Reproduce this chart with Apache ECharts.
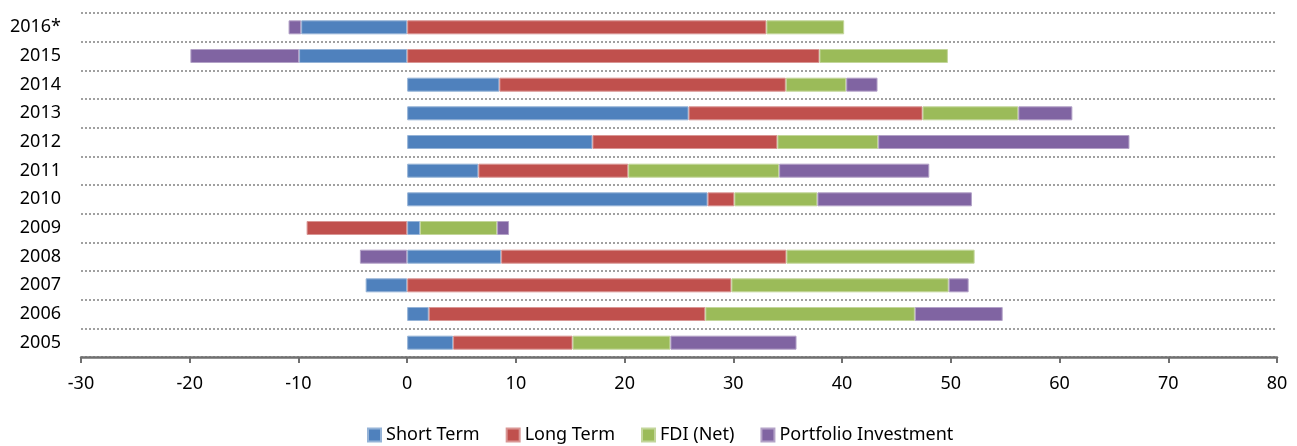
<!DOCTYPE html>
<html>
<head>
<meta charset="utf-8">
<script src="https://cdn.jsdelivr.net/npm/echarts@6/dist/echarts.min.js"></script>
<style>html,body{margin:0;padding:0;background:#fff;}#c{width:1297px;height:446px;}</style>
</head>
<body>
<div id="c"></div>
<script>
const years = ['2005','2006','2007','2008','2009','2010','2011','2012','2013','2014','2015','2016*'];
const shortTerm = [4.22, 1.98, -3.82, 8.64, 1.18, 27.63, 6.55, 17.04, 25.88, 8.48, -9.94, -9.75];
const longTerm = [10.99, 25.44, 29.82, 26.24, -9.25, 2.46, 13.78, 17.01, 21.52, 26.34, 37.92, 33.04];
const fdiNet = [9.0, 19.27, 19.98, 17.31, 7.09, 7.64, 13.88, 9.27, 8.81, 5.56, 11.81, 7.15];
const portfolio = [11.6, 8.08, 1.84, -4.35, 1.10, 14.21, 13.81, 23.11, 4.97, 2.88, -10.0, -1.16];
const xTicks = {min: -30, max: 80, interval: 10};

const seriesDefs = [
  {name: 'Short Term', data: shortTerm, color: '#4F81BD', border: '#95b3d7'},
  {name: 'Long Term', data: longTerm, color: '#C0504D', border: '#d99694'},
  {name: 'FDI (Net)', data: fdiNet, color: '#9BBB59', border: '#c3d69b'},
  {name: 'Portfolio Investment', data: portfolio, color: '#8064A2', border: '#b3a2c7'}
];
const font = "'Noto Sans', sans-serif";
const chart = echarts.init(document.getElementById('c'));
chart.setOption({
  animation: false,
  grid: {left: 81, right: 20, top: 13, bottom: 89, containLabel: false},
  legend: {
    top: 421, left: 362, itemWidth: 13, itemHeight: 13, itemGap: 26,
    icon: 'rect',
    textStyle: {fontFamily: font, fontSize: 18, color: '#000'},
    data: seriesDefs.map(s => s.name)
  },
  xAxis: {
    type: 'value', min: xTicks.min, max: xTicks.max, interval: xTicks.interval,
    axisLine: {show: true, lineStyle: {color: '#707070', width: 2.5}},
    axisTick: {show: true, length: 6, lineStyle: {color: '#707070', width: 2}},
    axisLabel: {fontFamily: font, fontSize: 18, color: '#000', margin: 18},
    splitLine: {show: false}
  },
  yAxis: {
    type: 'category', data: years,
    axisLine: {show: false}, axisTick: {show: false},
    axisLabel: {fontFamily: font, fontSize: 18, color: '#000', margin: 20},
    splitLine: {show: true, lineStyle: {color: '#a0a0a0', type: [2, 2], width: 2}}
  },
  series: seriesDefs.map(s => ({
    name: s.name, type: 'bar', stack: 'total', data: s.data,
    barWidth: 14,
    itemStyle: {color: s.color, borderColor: s.border, borderWidth: 1}
  }))
});
</script>
</body>
</html>
